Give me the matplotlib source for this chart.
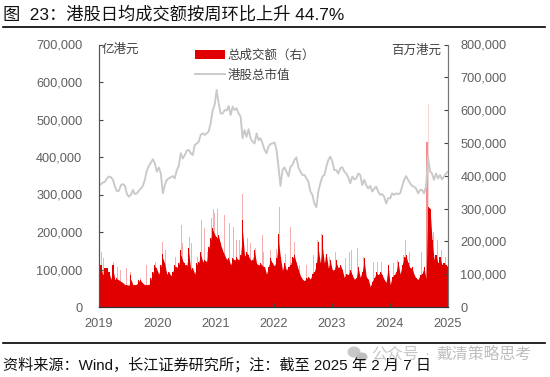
# -*- coding: utf-8 -*-
import numpy as np
import matplotlib
matplotlib.use('Agg')
from matplotlib import pyplot as plt
from matplotlib.lines import Line2D
from matplotlib.patches import Ellipse, Patch
from matplotlib.ticker import StrMethodFormatter

plt.rcParams['font.family'] = ['Liberation Sans', 'Noto Sans CJK SC', 'DejaVu Sans']

years = [2019, 2020, 2021, 2022, 2023, 2024, 2025]

market_cap = [
    323, 328, 332, 334, 343, 348, 346, 339, 321, 309, 310, 325, 328, 323, 301,
    294, 299, 312, 301, 303, 310, 316, 323, 339, 364, 376, 385, 394, 383, 361,
    372, 356, 303, 325, 339, 343, 346, 349, 343, 365, 376, 410, 396, 405, 417,
    419, 410, 405, 432, 436, 441, 459, 463, 459, 463, 468, 490, 525, 539, 579,
    543, 516, 516, 525, 524, 536, 512, 534, 525, 530, 516, 508, 450, 472, 454,
    474, 450, 441, 436, 463, 445, 450, 436, 419, 410, 428, 435, 436, 439, 419,
    374, 323, 365, 372, 361, 348, 374, 379, 392, 399, 372, 361, 352, 352, 343,
    334, 308, 299, 276, 266, 308, 330, 348, 352, 374, 392, 401, 388, 365, 365,
    356, 370, 373, 361, 356, 346, 330, 348, 340, 343, 356, 352, 325, 339, 325,
    316, 323, 308, 316, 321, 308, 299, 301, 294, 276, 290, 290, 303, 299, 303,
    301, 303, 321, 339, 349, 339, 330, 323, 321, 316, 303, 312, 312, 303, 321,
    401, 361, 356, 339, 356, 343, 352, 340, 348, 356, 361,
]

# 总成交额, thousand (right axis): the level the bars never drop below for long
turnover_low = [
    87, 118, 97, 110, 112, 105, 84, 115, 82, 86, 82, 78, 74, 68, 68,
    66, 85, 68, 68, 70, 80, 80, 72, 68, 68, 68, 85, 105, 125, 115,
    100, 125, 150, 130, 100, 108, 95, 108, 125, 120, 130, 160, 140, 130, 125,
    165, 115, 118, 100, 130, 135, 160, 138, 143, 138, 180, 205, 235, 222, 210,
    215, 190, 172, 158, 145, 148, 128, 148, 143, 150, 143, 155, 230, 155, 165,
    155, 143, 143, 168, 133, 128, 133, 125, 123, 100, 123, 145, 133, 125, 145,
    200, 150, 112, 133, 112, 123, 128, 150, 155, 133, 113, 95, 85, 80, 87,
    92, 85, 102, 108, 130, 175, 133, 185, 133, 160, 118, 140, 113, 113, 135,
    118, 128, 113, 90, 102, 98, 113, 97, 85, 88, 118, 90, 108, 140, 92,
    85, 62, 78, 87, 105, 97, 108, 97, 84, 75, 125, 68, 92, 97, 108,
    135, 100, 128, 150, 155, 133, 118, 120, 98, 88, 84, 97, 102, 120, 85,
    306, 300, 204, 145, 158, 133, 150, 128, 133, 128, 123,
]

# 总成交额, thousand: tops of the solid red columns
turnover_top = [
    87, 128, 97, 118, 118, 108, 77, 128, 82, 87, 82, 77, 72, 67, 67,
    64, 97, 67, 67, 67, 82, 82, 72, 67, 67, 67, 87, 108, 128, 118,
    97, 128, 163, 133, 97, 108, 87, 108, 128, 123, 133, 174, 143, 133, 128,
    179, 113, 118, 92, 133, 138, 168, 138, 143, 138, 184, 209, 240, 224, 214,
    219, 194, 174, 158, 143, 148, 123, 148, 143, 153, 143, 158, 265, 158, 169,
    158, 143, 143, 174, 133, 128, 133, 123, 123, 92, 123, 148, 133, 123, 148,
    224, 153, 108, 133, 108, 123, 128, 153, 158, 133, 113, 92, 82, 77, 87,
    92, 82, 102, 108, 133, 199, 133, 219, 133, 163, 118, 143, 113, 113, 143,
    118, 128, 113, 82, 102, 97, 113, 97, 82, 87, 123, 87, 108, 148, 92,
    82, 52, 77, 87, 108, 97, 108, 97, 82, 72, 128, 57, 92, 97, 108,
    138, 97, 128, 153, 158, 133, 118, 123, 97, 87, 82, 97, 102, 123, 85,
    306, 300, 204, 143, 158, 133, 153, 128, 133, 128, 123,
]

# single days sticking out above the body, as year and thousand
spike_x = [
    2019.035, 2019.069, 2019.241, 2019.31, 2019.378, 2019.481, 2019.55, 2019.722,
    2019.825, 2019.963, 2020.1, 2020.135, 2020.307, 2020.41, 2020.444, 2020.548,
    2020.582, 2020.685, 2020.754, 2020.822, 2020.857, 2020.926, 2020.96, 2020.994,
    2021.04, 2021.155, 2021.235, 2021.31, 2021.366, 2021.424, 2021.47, 2021.556,
    2021.613, 2021.682, 2021.808, 2021.836, 2021.94, 2022.043, 2022.1, 2022.214,
    2022.3, 2022.369, 2022.455, 2022.57, 2022.696, 2022.759, 2022.822, 2022.896,
    2022.971, 2023.074, 2023.246, 2023.315, 2023.349, 2023.452, 2023.555, 2023.727,
    2023.796, 2023.865, 2024.071, 2024.14, 2024.243, 2024.277, 2024.346, 2024.552,
    2024.759, 2024.827, 2024.896, 2024.965,
]
spike_val = [
    168, 148, 138, 123, 113, 118, 108, 87,
    128, 138, 199, 174, 153, 250, 194, 212,
    194, 153, 265, 240, 168, 270, 298, 285,
    300, 280, 255, 245, 204, 204, 345, 209,
    194, 179, 219, 168, 174, 176, 306, 163,
    243, 199, 128, 128, 158, 204, 224, 153,
    153, 168, 148, 168, 174, 179, 153, 138,
    138, 138, 133, 143, 158, 204, 168, 168,
    229, 204, 174, 153,
]

# the two record days of autumn 2024
peak_x = [2024.64, 2024.668]
peak_val = [503, 619]

fig = plt.figure(figsize=(5.5, 3.77), dpi=100)
W, H = 550.0, 377.0
ax = fig.add_axes([99 / W, 1 - 307 / H, 349 / W, 262.5 / H])
ax_r = ax.twinx()

x_low = np.linspace(years[0], years[-1], len(turnover_low))
x_top = np.linspace(years[0], years[-1], len(turnover_top))
px = (years[-1] - years[0]) / 349.0
ax_r.bar(spike_x, np.array(spike_val) * 1000, width=px, color='#F7AEAE', linewidth=0)
ax_r.bar(peak_x[1], peak_val[1] * 1000, width=1.2 * px, color='#FBD3D3', linewidth=0)
ax_r.bar(peak_x[0], peak_val[0] * 1000, width=1.6 * px, color='#F29090', linewidth=0)
ax_r.bar(x_top, np.array(turnover_top) * 1000, width=1.1 * px, color='#E00000', linewidth=0)
ax_r.fill_between(x_low, np.array(turnover_low) * 1000, color='#E00000', linewidth=0)

x_cap = np.linspace(years[0], years[-1], len(market_cap))
ax.plot(x_cap, np.array(market_cap) * 1000, color='#C9C9C9', lw=1.35)

ax.set_zorder(ax_r.get_zorder() + 1)
ax.patch.set_visible(False)

ax.set_xlim(years[0], years[-1])
ax.set_xticks(years)
ax.set_ylim(0, 700000)
ax.set_yticks(np.arange(0, 700001, 100000))
ax_r.set_ylim(0, 800000)
ax_r.set_yticks(np.arange(0, 800001, 100000))
ax.yaxis.set_major_formatter(StrMethodFormatter('{x:,.0f}'))
ax_r.yaxis.set_major_formatter(StrMethodFormatter('{x:,.0f}'))

for a in (ax, ax_r):
    a.spines['top'].set_visible(False)
    a.spines['left'].set_color('#555555')
    a.spines['right'].set_color('#777777')
    a.spines['bottom'].set_color('#333333')
    a.tick_params(axis='both', direction='in', length=3, width=0.8, color='#444444',
                  labelsize=9.2, labelcolor='#5F5F5F')
ax.tick_params(axis='y', pad=12)
ax.tick_params(axis='x', pad=8)
ax_r.tick_params(axis='y', pad=9)

handles = [Patch(color='#E00000', linewidth=0), Line2D([], [], color='#C9C9C9', lw=1.35)]
fig.legend(handles, ['总成交额（右）', '港股总市值'], loc='upper left',
           bbox_to_anchor=(192 / W, 1 - 47 / H), frameon=False, fontsize=9,
           labelcolor='#404040', handlelength=2.4, handletextpad=0.25,
           labelspacing=0.62, borderpad=0.2, borderaxespad=0)

fig.text(102 / W, 1 - 50 / H, '亿港元', fontsize=9, color='#404040', va='center')
fig.text(441 / W, 1 - 51 / H, '百万港元', fontsize=9, color='#404040', va='center', ha='right')

# title and source, with their rules
fig.text(3 / W, 1 - 14 / H, '图  23：港股日均成交额按周环比上升 44.7%', fontsize=12.45,
         color='#111111', va='center')
fig.text(3 / W, 1 - 365 / H, '资料来源：Wind，长江证券研究所；注：截至 2025 年 2 月 7 日',
         fontsize=10.9, color='#111111', va='center')
fig.add_artist(Line2D([3 / W, 545 / W], [1 - 26.7 / H] * 2, color='black', lw=1.2))
fig.add_artist(Line2D([3 / W, 545 / W], [1 - 342.7 / H] * 2, color='black', lw=1.2))

# watermark
fig.add_artist(Ellipse((354 / W, 1 - 352 / H), 13 / W, 11 / H, color='#C8C8C8', lw=0))
fig.add_artist(Ellipse((362 / W, 1 - 357 / H), 11 / W, 9 / H, color='#BDBDBD', lw=0))
fig.text(371 / W, 1 - 354 / H, '公众号', fontsize=11.4, color='#C6C6C6', va='center')
fig.text(424 / W, 1 - 354 / H, '·', fontsize=11, color='#C6C6C6', va='center')
fig.text(436 / W, 1 - 354 / H, '戴清策略思考', fontsize=11.4, color='#BEBEBE', va='center')

fig.savefig('out.png', dpi=100)
